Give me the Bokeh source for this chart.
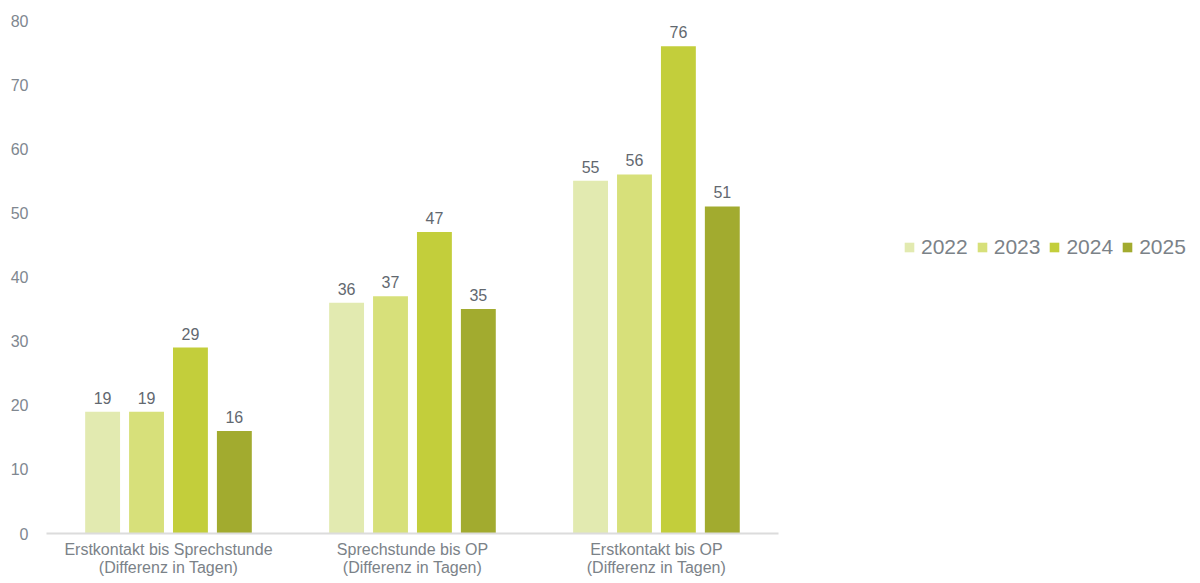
from bokeh.plotting import figure
from bokeh.models import ColumnDataSource, Range1d, Legend, LegendItem, FixedTicker, LabelSet
from bokeh.transform import dodge
from bokeh.core.properties import value
from bokeh.embed import file_html
from bokeh.resources import INLINE

categories = ["Erstkontakt bis Sprechstunde\n(Differenz in Tagen)",
              "Sprechstunde bis OP\n(Differenz in Tagen)",
              "Erstkontakt bis OP\n(Differenz in Tagen)"]
years = ["2022", "2023", "2024", "2025"]
v2022 = [19, 36, 55]
v2023 = [19, 37, 56]
v2024 = [29, 47, 76]
v2025 = [16, 35, 51]
y_ticks = [0, 10, 20, 30, 40, 50, 60, 70, 80]

colors = ["#e2eab0", "#d7e07a", "#c3ce3b", "#a2ab2f"]
offsets = [-0.27, -0.09, 0.09, 0.27]
series = [v2022, v2023, v2024, v2025]

FONT = "Liberation Sans"
cat_pos = [i + 0.5 for i in range(len(categories))]

p = figure(width=1200, height=583, x_range=Range1d(0, 4.73),
           y_range=Range1d(0, 80), output_backend="svg", toolbar_location=None,
           min_border_left=46, min_border_right=0, min_border_top=20, min_border_bottom=50)
p.outline_line_color = None
p.xgrid.grid_line_color = None
p.ygrid.grid_line_color = None
p.background_fill_color = "white"

items = []
for yr, vals, col, off in zip(years, series, colors, offsets):
    src = ColumnDataSource(dict(x=cat_pos, val=vals, lbl=[str(v) for v in vals]))
    r = p.vbar(x=dodge("x", off), top="val", width=0.143, source=src,
               fill_color=col, line_color=None)
    labels = LabelSet(x=dodge("x", off), y="val", text="lbl", source=src,
                      text_align="center", text_baseline="bottom", y_offset=8,
                      text_font=value(FONT), text_font_size="16px", text_color="#62686f")
    p.add_layout(labels)
    items.append(LegendItem(label=yr, renderers=[r]))

legend = Legend(items=items, orientation="horizontal", location=(857, 274),
                label_text_font=FONT, label_text_font_size="21px", label_text_color="#7b8288",
                glyph_width=12, glyph_height=12, label_standoff=6, spacing=8,
                background_fill_alpha=0, border_line_color=None, padding=0, margin=0)
p.add_layout(legend, "center")

p.yaxis.ticker = FixedTicker(ticks=y_ticks)
p.yaxis.axis_line_color = None
p.yaxis.major_tick_line_color = None
p.yaxis.minor_tick_line_color = None
p.yaxis.major_label_text_font = FONT
p.yaxis.major_label_text_font_size = "16px"
p.yaxis.major_label_text_color = "#808790"
p.yaxis.major_label_standoff = 12

p.xaxis.bounds = (0, len(categories))
p.xaxis.ticker = FixedTicker(ticks=cat_pos)
p.xaxis.major_label_overrides = {x: c for x, c in zip(cat_pos, categories)}
p.xaxis.axis_line_color = "#dcdcdc"
p.xaxis.axis_line_width = 2
p.xaxis.major_tick_line_color = None
p.xaxis.minor_tick_line_color = None
p.xaxis.major_label_text_font = FONT
p.xaxis.major_label_text_font_size = "16px"
p.xaxis.major_label_text_color = "#7b8288"
p.xaxis.major_label_text_line_height = 1.1
p.xaxis.major_label_standoff = 1

open("out.html", "w").write(file_html(p, INLINE))
